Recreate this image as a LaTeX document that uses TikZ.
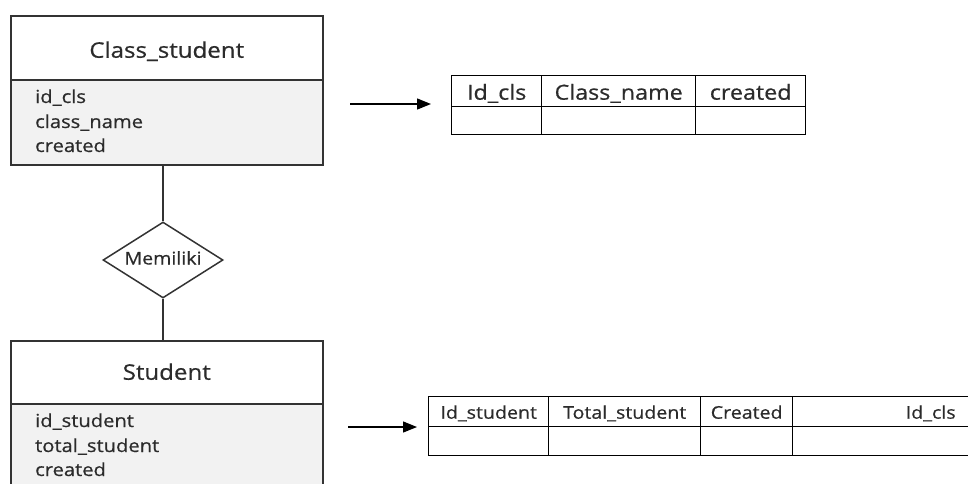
\documentclass[tikz,border=0pt]{standalone}
\usepackage{fontspec}
\setmainfont{Open Sans}[FakeStretch=1.12,FakeBold=0.6]
\usetikzlibrary{shapes.geometric,arrows.meta}
\definecolor{ln}{HTML}{333333}
\definecolor{txt}{HTML}{2B2B2B}
\definecolor{attrfill}{HTML}{F2F2F2}
\begin{document}
\begin{tikzpicture}[x=1pt,y=-1pt,
  titlebox/.style={draw=ln, line width=1.5pt, minimum width=312pt, inner sep=0pt, anchor=north west, text=txt, font=\fontsize{21.5}{26}\selectfont, text depth=0pt},
  attrbox/.style={draw=ln, line width=1.5pt, fill=attrfill, minimum width=312pt, inner sep=0pt, anchor=north west},
  attr/.style={anchor=base west, text=txt, inner sep=0pt, font=\fontsize{18}{22}\selectfont},
  rel/.style={diamond, draw=ln, line width=1.5pt, aspect=1.58, minimum width=120pt, minimum height=76pt, inner sep=0pt, text=txt, font=\fontsize{17.5}{20}\selectfont, text height=9pt, text depth=0pt},
  link/.style={draw=ln, line width=1.5pt},
  arr/.style={draw=black, line width=1.3pt, -{Triangle[length=14pt,width=11pt]}},
  cell/.style={draw=black, line width=1.4pt, inner sep=0pt, anchor=north west, text=txt},
  hdrA/.style={cell, minimum height=31pt, font=\fontsize{20.8}{24}\selectfont, text height=17pt, text depth=0pt},
  rowA/.style={cell, minimum height=28pt},
  hdrB/.style={cell, minimum height=30pt, font=\fontsize{17.5}{22}\selectfont, text height=14pt, text depth=0pt},
  rowB/.style={cell, minimum height=29pt}
]
\useasboundingbox (0,0) rectangle (968,483);
\clip (0,0) rectangle (968,483);

% Class_student entity
\node[titlebox, minimum height=64pt, text height=20pt] (cst) at (10,15) {Class\_student};
\node[attrbox, minimum height=85pt] (csa) at (10,79) {};
\node[attr] (csa1) at (35,103) {id\_cls};
\node[attr] (csa2) at (35,128) {class\_name};
\node[attr] (csa3) at (35,152) {created};

% relationship
\node[rel] (rel) at (163,260) {Memiliki};

% Student entity
\node[titlebox, minimum height=63pt, text height=15pt] (stt) at (10,340) {Student};
\node[attrbox, minimum height=110pt] (sta) at (10,403) {};
\node[attr] (sta1) at (35,427) {id\_student};
\node[attr] (sta2) at (35,452) {total\_student};
\node[attr] (sta3) at (35,476) {created};

\draw[link] (csa.south -| rel.north) -- (rel.north);
\draw[link] (rel.south) -- (stt.north -| rel.south);

% table 1
\node[hdrA, minimum width=90pt] (t1h1) at (451,75) {Id\_cls};
\node[hdrA, minimum width=154pt] (t1h2) at (541,75) {Class\_name};
\node[hdrA, minimum width=110pt] (t1h3) at (695,75) {created};
\node[rowA, minimum width=90pt] (t1r1) at (451,106) {};
\node[rowA, minimum width=154pt] (t1r2) at (541,106) {};
\node[rowA, minimum width=110pt] (t1r3) at (695,106) {};

% table 2
\node[hdrB, minimum width=120pt] (t2h1) at (428,396) {Id\_student};
\node[hdrB, minimum width=152pt] (t2h2) at (548,396) {Total\_student};
\node[hdrB, minimum width=92pt] (t2h3) at (700,396) {Created};
\node[hdrB, minimum width=276pt] (t2h4) at (792,396) {Id\_cls};
\node[rowB, minimum width=120pt] (t2r1) at (428,426) {};
\node[rowB, minimum width=152pt] (t2r2) at (548,426) {};
\node[rowB, minimum width=92pt] (t2r3) at (700,426) {};
\node[rowB, minimum width=276pt] (t2r4) at (792,426) {};

% arrows
\coordinate (a1s) at (350,104);
\coordinate (a1e) at (431,104);
\coordinate (a2s) at (348,427);
\coordinate (a2e) at (417,427);
\draw[arr] (a1s) -- (a1e);
\draw[arr] (a2s) -- (a2e);
\end{tikzpicture}
\end{document}
